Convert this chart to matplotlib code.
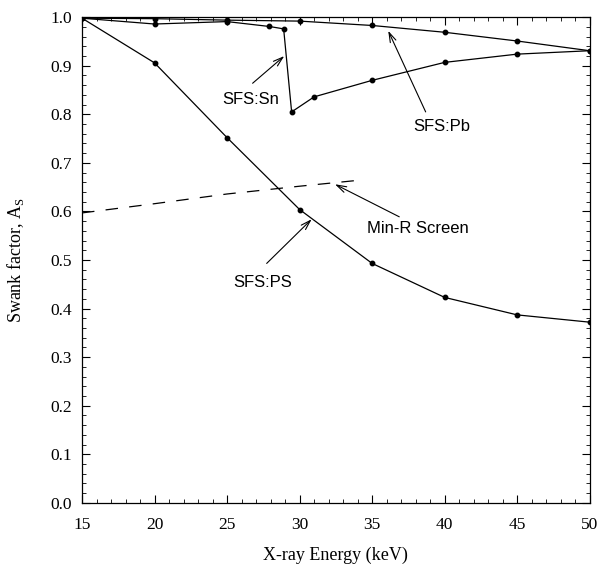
import matplotlib
matplotlib.use('Agg')
import matplotlib.pyplot as plt
from matplotlib.ticker import MultipleLocator
import numpy as np

# values
energy = [15, 20, 25, 30, 35, 40, 45, 50]
sfs_ps = [0.998, 0.906, 0.752, 0.604, 0.493, 0.423, 0.387, 0.372]
sfs_pb = [0.998, 0.997, 0.994, 0.992, 0.983, 0.969, 0.951, 0.931]

sn_energy = [15, 20, 25, 27.9, 28.9, 29.45, 31, 35, 40, 45, 50]
sfs_sn = [0.998, 0.986, 0.991, 0.981, 0.976, 0.805, 0.836, 0.870, 0.907, 0.924, 0.931]

minr_energy = [15, 20, 25, 30, 34]
minr = [0.597, 0.616, 0.636, 0.652, 0.664]

# label text, text position, arrow tail, arrow tip
labels = ['SFS:Sn', 'SFS:Pb', 'Min-R Screen', 'SFS:PS']
label_xy = [(26.65, 0.830), (39.81, 0.774), (38.16, 0.564), (27.47, 0.454)]
arrow_tail = [(26.76, 0.864), (38.69, 0.805), (36.87, 0.589), (27.73, 0.493)]
arrow_tip = [(28.94, 0.920), (36.11, 0.972), (32.44, 0.656), (30.83, 0.584)]

serif = ['Liberation Serif', 'DejaVu Serif']
sans = ['Liberation Sans', 'DejaVu Sans']
plt.rcParams['font.family'] = serif
plt.rcParams['mathtext.fontset'] = 'custom'
plt.rcParams['mathtext.rm'] = 'Liberation Serif'

fig = plt.figure(figsize=(6.03, 5.74), dpi=100)
ax = fig.add_axes([0.136, 0.124, 0.842, 0.846])

lw = 0.9
ms = 3.2
ax.plot(energy, sfs_ps, color='black', lw=lw, marker='o', ms=ms)
ax.plot(energy, sfs_pb, color='black', lw=lw, marker='o', ms=ms)
ax.plot(sn_energy, sfs_sn, color='black', lw=lw, marker='o', ms=ms)
ax.plot(minr_energy, minr, color='black', lw=lw, dashes=(10, 9))

for txt, pos, tail, tip in zip(labels, label_xy, arrow_tail, arrow_tip):
    ax.annotate('', xy=tip, xytext=tail,
                arrowprops=dict(arrowstyle='->,head_length=0.7,head_width=0.22',
                                color='black', lw=0.8, shrinkA=0, shrinkB=0))
    ax.text(pos[0], pos[1], txt, ha='center', va='center', fontsize=12, family=sans)

ax.set_xlim(15, 50)
ax.set_ylim(0.0, 1.0)
ax.xaxis.set_major_locator(MultipleLocator(5))
ax.xaxis.set_minor_locator(MultipleLocator(1))
ax.yaxis.set_major_locator(MultipleLocator(0.1))
ax.yaxis.set_minor_locator(MultipleLocator(0.02))
ax.tick_params(which='both', direction='in', top=True, right=True, labelsize=12.5)
ax.tick_params(which='major', length=6, width=0.8, pad=7)
ax.tick_params(axis='x', which='major', pad=10)
ax.tick_params(which='minor', length=3, width=0.6)
for s in ax.spines.values():
    s.set_linewidth(0.9)

ax.set_xlabel('X-ray Energy (keV)', fontsize=13, labelpad=10)
ax.set_ylabel('Swank factor, A$_\\mathregular{S}$', fontsize=13, labelpad=18)

fig.savefig('out.png', dpi=100)
